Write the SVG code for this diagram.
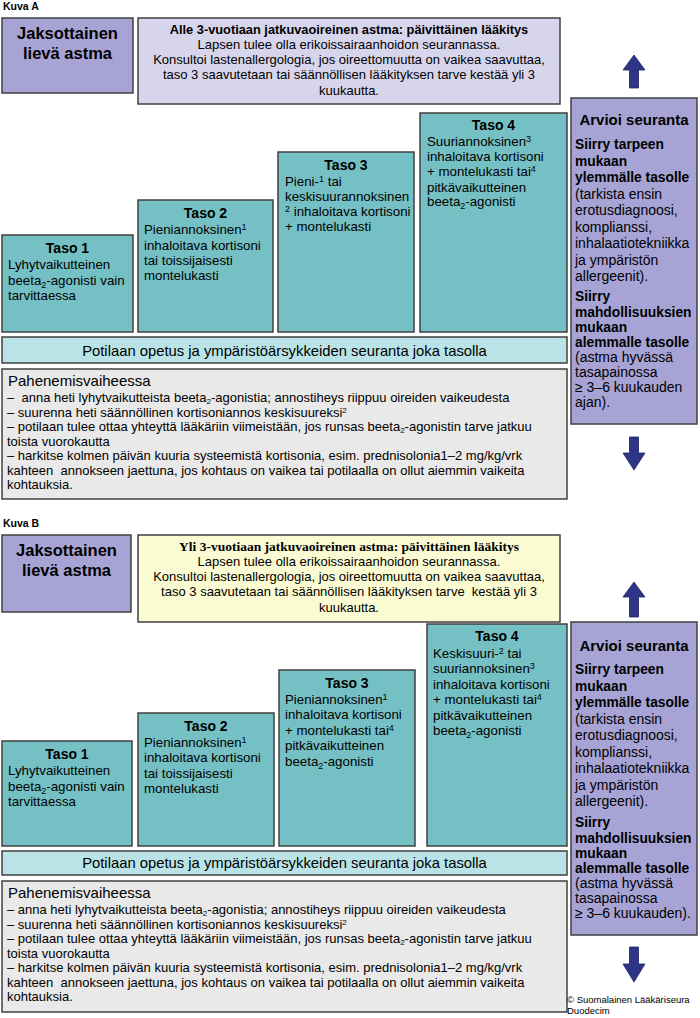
<svg xmlns="http://www.w3.org/2000/svg" width="700" height="1018" viewBox="0 0 700 1018">
<style>
text{font-family:"Liberation Sans",Arial,sans-serif;fill:#000}
.b{font-weight:bold}
.box{stroke:#404040;stroke-width:1.5}
.purple{fill:#a7a4d5}
.lav{fill:#d7d5ec}
.teal{fill:#75c0c4}
.cyan{fill:#b9e3e6}
.gray{fill:#e9e9e9}
.yel{fill:#fbfbd3}
.t13{font-size:13.3px}
.t12{font-size:13px}
.p14{font-size:14px}
.pb{font-size:13.8px;font-weight:bold}
.tt{font-size:14px;font-weight:bold}
.top{font-size:13px}
.bar{font-size:14.8px}
.arrow{fill:#2d3586;stroke:#1f2566;stroke-width:0.8}
.ss{font-size:9px}
.sp{font-size:8px}
</style>

<text x="3" y="10" class="b" font-size="10.5">Kuva A</text>
<text x="3" y="527" class="b" font-size="10.5">Kuva B</text>

<!-- ===== Kuva A ===== -->
<g id="a-jaksottainen">
<rect x="2" y="18" width="131" height="75" class="box purple"/>
<text x="67.5" y="39" class="b" font-size="16.5" text-anchor="middle">Jaksottainen</text>
<text x="67.5" y="59" class="b" font-size="16.5" text-anchor="middle">lievä astma</text>
</g>

<g id="a-paivittainen">
<rect x="138" y="18" width="422" height="86" class="box lav"/>
<text x="349" y="34" class="b" font-size="12.8" text-anchor="middle">Alle 3-vuotiaan jatkuvaoireinen astma: päivittäinen lääkitys</text>
<text x="349" y="49" class="top" text-anchor="middle">Lapsen tulee olla erikoissairaanhoidon seurannassa.</text>
<text x="349" y="64" class="top" text-anchor="middle">Konsultoi lastenallergologia, jos oireettomuutta on vaikea saavuttaa,</text>
<text x="349" y="79" class="top" text-anchor="middle">taso 3 saavutetaan tai säännöllisen lääkityksen tarve kestää yli 3</text>
<text x="349" y="95" class="top" text-anchor="middle">kuukautta.</text>
</g>

<g id="a-taso1">
<rect x="2" y="235" width="131" height="97" class="box teal"/>
<text x="67.5" y="253" class="tt" text-anchor="middle">Taso 1</text>
<text x="8" y="269" class="t13">Lyhytvaikutteinen</text>
<text x="8" y="285" class="t13">beeta<tspan class="ss" dy="3">2</tspan><tspan dy="-3">-agonisti vain</tspan></text>
<text x="8" y="300" class="t13">tarvittaessa</text>
</g>

<g id="a-taso2">
<rect x="138" y="200" width="135" height="132" class="box teal"/>
<text x="205.5" y="218" class="tt" text-anchor="middle">Taso 2</text>
<text x="144" y="234" class="t13">Pieniannoksinen<tspan class="ss" dy="-4">1</tspan></text>
<text x="144" y="249.5" class="t13">inhaloitava kortisoni</text>
<text x="144" y="265" class="t13">tai toissijaisesti</text>
<text x="144" y="280" class="t13">montelukasti</text>
</g>

<g id="a-taso3">
<rect x="278" y="152" width="136" height="180" class="box teal"/>
<text x="346" y="170" class="tt" text-anchor="middle">Taso 3</text>
<text x="285" y="186" class="t13">Pieni-<tspan class="ss" dy="-4">1</tspan><tspan dy="4"> tai</tspan></text>
<text x="285" y="201" class="t13">keskisuurannoksinen</text>
<text x="285" y="216" class="t13"><tspan class="ss" dy="-4">2</tspan><tspan dy="4"> inhaloitava kortisoni</tspan></text>
<text x="285" y="231" class="t13">+ montelukasti</text>
</g>

<g id="a-taso4">
<rect x="420" y="113" width="147" height="219" class="box teal"/>
<text x="493.5" y="130" class="tt" text-anchor="middle">Taso 4</text>
<text x="427" y="146" class="t13">Suuriannoksinen<tspan class="ss" dy="-4">3</tspan></text>
<text x="427" y="161" class="t13">inhaloitava kortisoni</text>
<text x="427" y="176" class="t13">+ montelukasti tai<tspan class="ss" dy="-4">4</tspan></text>
<text x="427" y="191.5" class="t13">pitkävaikutteinen</text>
<text x="427" y="206" class="t13">beeta<tspan class="ss" dy="3">2</tspan><tspan dy="-3">-agonisti</tspan></text>
</g>

<g id="a-opetus">
<rect x="2" y="337" width="565" height="26" class="box cyan"/>
<text x="284.5" y="355.5" class="bar" text-anchor="middle">Potilaan opetus ja ympäristöärsykkeiden seuranta joka tasolla</text>
</g>

<g id="a-pahenemis">
<rect x="2" y="369" width="565" height="130" class="box gray"/>
<text x="8" y="386" font-size="15">Pahenemisvaiheessa</text>
<text x="7" y="402" class="t12" xml:space="preserve">–  anna heti lyhytvaikutteista beeta<tspan class="sp" dy="2">2</tspan><tspan dy="-2">-agonistia; annostiheys riippuu oireiden vaikeudesta</tspan></text>
<text x="7" y="417" class="t12">– suurenna heti säännöllinen kortisoniannos keskisuureksi<tspan class="sp" dy="-4">2</tspan></text>
<text x="7" y="431" class="t12">– potilaan tulee ottaa yhteyttä lääkäriin viimeistään, jos runsas beeta<tspan class="sp" dy="2">2</tspan><tspan dy="-2">-agonistin tarve jatkuu</tspan></text>
<text x="7" y="445.5" class="t12">toista vuorokautta</text>
<text x="7" y="460" class="t12">– harkitse kolmen päivän kuuria systeemistä kortisonia, esim. prednisolonia1–2 mg/kg/vrk</text>
<text x="7" y="474.5" class="t12" xml:space="preserve">kahteen  annokseen jaettuna, jos kohtaus on vaikea tai potilaalla on ollut aiemmin vaikeita</text>
<text x="7" y="489" class="t12">kohtauksia.</text>
</g>

<g id="a-seuranta">
<rect x="571" y="98" width="126" height="326" class="box purple"/>
<text x="634" y="125" class="b" font-size="15" text-anchor="middle">Arvioi seuranta</text>
<text x="575" y="149" class="pb">Siirry tarpeen</text>
<text x="575" y="165.5" class="pb">mukaan</text>
<text x="575" y="182" class="pb">ylemmälle tasolle</text>
<text x="575" y="198.5" class="p14">(tarkista ensin</text>
<text x="575" y="215" class="p14">erotusdiagnoosi,</text>
<text x="575" y="231.5" class="p14">komplianssi,</text>
<text x="575" y="248" class="p14">inhalaatiotekniikka</text>
<text x="575" y="264.5" class="p14">ja ympäristön</text>
<text x="575" y="281" class="p14">allergeenit).</text>
<text x="575" y="301" class="pb">Siirry</text>
<text x="575" y="316.5" class="pb">mahdollisuuksien</text>
<text x="575" y="331.5" class="pb">mukaan</text>
<text x="575" y="346.5" class="pb">alemmalle tasolle</text>
<text x="575" y="361.5" class="p14">(astma hyvässä</text>
<text x="575" y="376.5" class="p14">tasapainossa</text>
<text x="575" y="391.5" class="p14">≥ 3–6 kuukauden</text>
<text x="575" y="406.5" class="p14">ajan).</text>
</g>

<!-- ===== Kuva B ===== -->
<g id="b-jaksottainen">
<rect x="2" y="535" width="129" height="77" class="box purple"/>
<text x="66.5" y="556" class="b" font-size="16.5" text-anchor="middle">Jaksottainen</text>
<text x="66.5" y="576" class="b" font-size="16.5" text-anchor="middle">lievä astma</text>
</g>

<g id="b-paivittainen">
<rect x="138" y="535" width="422" height="87" class="box yel"/>
<text x="349" y="551" font-weight="bold" font-size="13.5" text-anchor="middle" style="font-family:'Liberation Serif',serif">Yli 3-vuotiaan jatkuvaoireinen astma: päivittäinen lääkitys</text>
<text x="349" y="566" class="top" text-anchor="middle">Lapsen tulee olla erikoissairaanhoidon seurannassa.</text>
<text x="349" y="581" class="top" text-anchor="middle">Konsultoi lastenallergologia, jos oireettomuutta on vaikea saavuttaa,</text>
<text x="349" y="596" class="top" text-anchor="middle" xml:space="preserve">taso 3 saavutetaan tai säännöllisen lääkityksen tarve  kestää yli 3</text>
<text x="349" y="612" class="top" text-anchor="middle">kuukautta.</text>
</g>

<g id="b-taso1">
<rect x="2" y="741" width="130" height="105" class="box teal"/>
<text x="67" y="759" class="tt" text-anchor="middle">Taso 1</text>
<text x="8" y="775" class="t13">Lyhytvaikutteinen</text>
<text x="8" y="790.5" class="t13">beeta<tspan class="ss" dy="3">2</tspan><tspan dy="-3">-agonisti vain</tspan></text>
<text x="8" y="806" class="t13">tarvittaessa</text>
</g>

<g id="b-taso2">
<rect x="138" y="713" width="136" height="133" class="box teal"/>
<text x="206" y="731" class="tt" text-anchor="middle">Taso 2</text>
<text x="144" y="746.5" class="t13">Pieniannoksinen<tspan class="ss" dy="-4">1</tspan></text>
<text x="144" y="762" class="t13">inhaloitava kortisoni</text>
<text x="144" y="777.5" class="t13">tai toissijaisesti</text>
<text x="144" y="793" class="t13">montelukasti</text>
</g>

<g id="b-taso3">
<rect x="279" y="670" width="136" height="176" class="box teal"/>
<text x="347" y="688" class="tt" text-anchor="middle">Taso 3</text>
<text x="285" y="703.5" class="t13">Pieniannoksinen<tspan class="ss" dy="-4">1</tspan></text>
<text x="285" y="719" class="t13">inhaloitava kortisoni</text>
<text x="285" y="734.5" class="t13">+ montelukasti tai<tspan class="ss" dy="-4">4</tspan></text>
<text x="285" y="750" class="t13">pitkävaikutteinen</text>
<text x="285" y="765.5" class="t13">beeta<tspan class="ss" dy="3">2</tspan><tspan dy="-3">-agonisti</tspan></text>
</g>

<g id="b-taso4">
<rect x="427" y="624" width="140" height="222" class="box teal"/>
<text x="497" y="641" class="tt" text-anchor="middle">Taso 4</text>
<text x="433" y="657.5" class="t13">Keskisuuri-<tspan class="ss" dy="-4">2</tspan><tspan dy="4"> tai</tspan></text>
<text x="433" y="673" class="t13">suuriannoksinen<tspan class="ss" dy="-4">3</tspan></text>
<text x="433" y="688.5" class="t13">inhaloitava kortisoni</text>
<text x="433" y="704" class="t13">+ montelukasti tai<tspan class="ss" dy="-4">4</tspan></text>
<text x="433" y="719.5" class="t13">pitkävaikutteinen</text>
<text x="433" y="735" class="t13">beeta<tspan class="ss" dy="3">2</tspan><tspan dy="-3">-agonisti</tspan></text>
</g>

<g id="b-opetus">
<rect x="2" y="851" width="565" height="24" class="box cyan"/>
<text x="284.5" y="868" class="bar" text-anchor="middle">Potilaan opetus ja ympäristöärsykkeiden seuranta joka tasolla</text>
</g>

<g id="b-pahenemis">
<rect x="2" y="881" width="565" height="131" class="box gray"/>
<text x="8" y="898" font-size="15">Pahenemisvaiheessa</text>
<text x="7" y="913.5" class="t12">– anna heti lyhytvaikutteista beeta<tspan class="sp" dy="2">2</tspan><tspan dy="-2">-agonistia; annostiheys riippuu oireiden vaikeudesta</tspan></text>
<text x="7" y="928.5" class="t12">– suurenna heti säännöllinen kortisoniannos keskisuureksi<tspan class="sp" dy="-4">2</tspan></text>
<text x="7" y="943" class="t12">– potilaan tulee ottaa yhteyttä lääkäriin viimeistään, jos runsas beeta<tspan class="sp" dy="2">2</tspan><tspan dy="-2">-agonistin tarve jatkuu</tspan></text>
<text x="7" y="957.5" class="t12">toista vuorokautta</text>
<text x="7" y="972" class="t12">– harkitse kolmen päivän kuuria systeemistä kortisonia, esim. prednisolonia1–2 mg/kg/vrk</text>
<text x="7" y="986.5" class="t12" xml:space="preserve">kahteen  annokseen jaettuna, jos kohtaus on vaikea tai potilaalla on ollut aiemmin vaikeita</text>
<text x="7" y="1001" class="t12">kohtauksia.</text>
</g>

<g id="b-seuranta">
<rect x="571" y="622" width="126" height="313" class="box purple"/>
<text x="634" y="651" class="b" font-size="15" text-anchor="middle">Arvioi seuranta</text>
<text x="575" y="674" class="pb">Siirry tarpeen</text>
<text x="575" y="690.5" class="pb">mukaan</text>
<text x="575" y="707" class="pb">ylemmälle tasolle</text>
<text x="575" y="723.5" class="p14">(tarkista ensin</text>
<text x="575" y="740" class="p14">erotusdiagnoosi,</text>
<text x="575" y="756.5" class="p14">komplianssi,</text>
<text x="575" y="773" class="p14">inhalaatiotekniikka</text>
<text x="575" y="789.5" class="p14">ja ympäristön</text>
<text x="575" y="806" class="p14">allergeenit).</text>
<text x="575" y="827" class="pb">Siirry</text>
<text x="575" y="842.5" class="pb">mahdollisuuksien</text>
<text x="575" y="858" class="pb">mukaan</text>
<text x="575" y="873" class="pb">alemmalle tasolle</text>
<text x="575" y="888" class="p14">(astma hyvässä</text>
<text x="575" y="903" class="p14">tasapainossa</text>
<text x="575" y="918" class="p14">≥ 3–6 kuukauden).</text>
</g>

<g id="copyright">
<text x="567" y="1003" font-size="9.5">© Suomalainen Lääkäriseura</text>
<text x="567" y="1014" font-size="9.5">Duodecim</text>
</g>

<g id="connectors">
<polygon class="arrow" points="634,55 645,70 638.5,70 638.5,88 629.5,88 629.5,70 623,70"/>
<polygon class="arrow" points="629.5,437 638.5,437 638.5,453 645,453 634,470 623,453 629.5,453"/>
<polygon class="arrow" points="634,582 645,597 638.5,597 638.5,617 629.5,617 629.5,597 623,597"/>
<polygon class="arrow" points="629.5,947 638.5,947 638.5,964 645,964 634,982 623,964 629.5,964"/>
</g>
</svg>
